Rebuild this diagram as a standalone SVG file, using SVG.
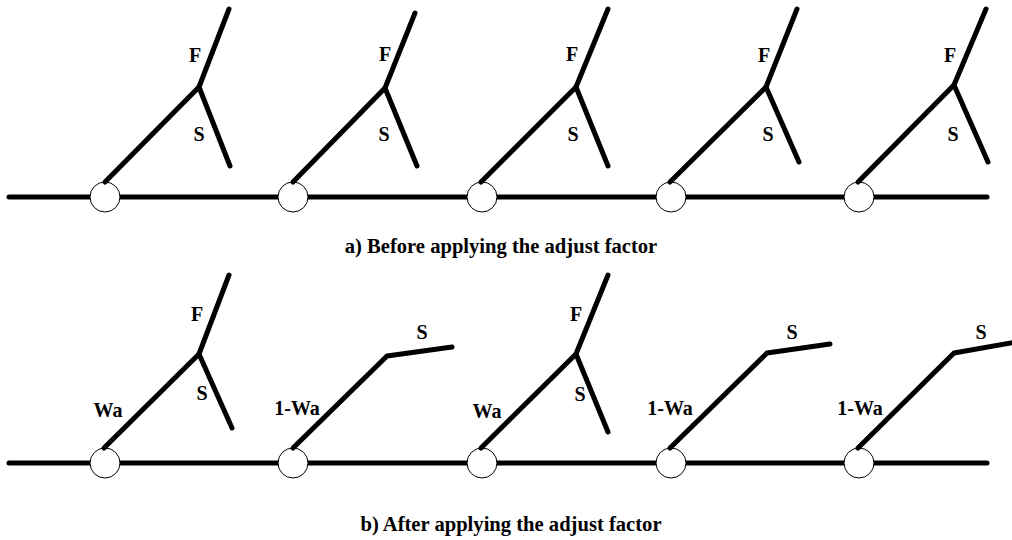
<svg xmlns="http://www.w3.org/2000/svg" width="1012" height="540" viewBox="0 0 1012 540">
<style>
.bus{stroke:#000;stroke-width:5;stroke-linecap:round;fill:none}
.br{stroke:#000;stroke-width:5;stroke-linecap:round;stroke-linejoin:round;fill:none}
.nd{fill:#fff;stroke:#000;stroke-width:1}
text{font-family:"Liberation Serif","Times New Roman",serif;font-weight:bold;font-size:20px;text-anchor:middle;fill:#000}
.cap{font-size:20.6px}
</style>
<rect width="1012" height="540" fill="#fff"/>
<g id="connectors">
<line class="bus" x1="9" y1="197" x2="987" y2="197"/>
<line class="bus" x1="9" y1="463" x2="987" y2="463"/>
</g>
<g id="a1">
<circle class="nd" cx="105" cy="197" r="15"/>
<polyline class="br" points="105,182 199,87 229,9"/>
<polyline class="br" points="199,87 230,166"/>
<text x="195" y="62">F</text><text x="199" y="141">S</text>
</g>
<g id="a2">
<circle class="nd" cx="293" cy="197" r="15"/>
<polyline class="br" points="293,182 385,88 415,13"/>
<polyline class="br" points="385,88 417,166"/>
<text x="385" y="61">F</text><text x="384" y="141">S</text>
</g>
<g id="a3">
<circle class="nd" cx="482" cy="197" r="15"/>
<polyline class="br" points="481,182 576,87 608,9"/>
<polyline class="br" points="576,87 608,166"/>
<text x="572" y="61">F</text><text x="573" y="141">S</text>
</g>
<g id="a4">
<circle class="nd" cx="671" cy="197" r="15"/>
<polyline class="br" points="670,182 766,87 797,9"/>
<polyline class="br" points="766,87 799,162"/>
<text x="764" y="62">F</text><text x="768" y="141">S</text>
</g>
<g id="a5">
<circle class="nd" cx="859" cy="197" r="15"/>
<polyline class="br" points="858,182 954,85 986,9"/>
<polyline class="br" points="954,85 988,162"/>
<text x="950" y="62">F</text><text x="953" y="141">S</text>
</g>
<g id="caption-a"><text class="cap" x="501" y="253">a) Before applying the adjust factor</text></g>
<g id="b1">
<circle class="nd" cx="105" cy="463" r="15"/>
<polyline class="br" points="104,448 199,354 229,275"/>
<polyline class="br" points="199,354 232,428"/>
<text x="197" y="321">F</text><text x="202" y="400">S</text><text x="108" y="417">Wa</text>
</g>
<g id="b2">
<circle class="nd" cx="293" cy="463" r="15"/>
<polyline class="br" points="293,448 387,356 452,347"/>
<text x="422" y="339">S</text><text x="297" y="415">1-Wa</text>
</g>
<g id="b3">
<circle class="nd" cx="482" cy="463" r="15"/>
<polyline class="br" points="481,448 576,354 608,275"/>
<polyline class="br" points="576,354 608,432"/>
<text x="576" y="321">F</text><text x="580" y="401">S</text><text x="487" y="418">Wa</text>
</g>
<g id="b4">
<circle class="nd" cx="671" cy="463" r="15"/>
<polyline class="br" points="670,448 767,353 830,344"/>
<text x="792" y="339">S</text><text x="670" y="415">1-Wa</text>
</g>
<g id="b5">
<circle class="nd" cx="859" cy="463" r="15"/>
<polyline class="br" points="858,448 954,353 1016,342"/>
<text x="981" y="339">S</text><text x="860" y="415">1-Wa</text>
</g>
<g id="caption-b"><text class="cap" x="511" y="531">b) After applying the adjust factor</text></g>
</svg>
